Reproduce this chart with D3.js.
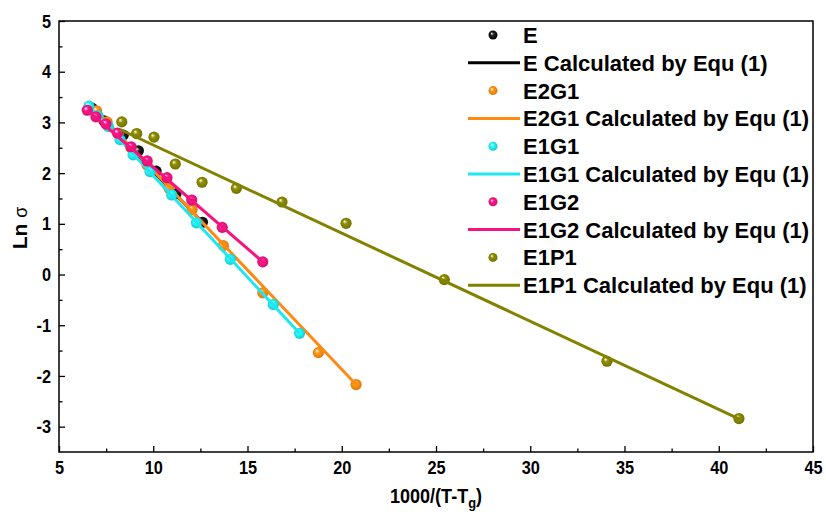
<!DOCTYPE html>
<html><head><meta charset="utf-8">
<script src="https://cdn.jsdelivr.net/npm/d3@7"></script>
<style>
html,body{margin:0;padding:0;background:#fff;}
svg text{font-family:"Liberation Sans",Arial,sans-serif;font-weight:bold;fill:#000;}
</style></head>
<body><svg id="chart" width="826" height="520"></svg>
<script>
// ---- data ----
const seriesNames = ["E", "E2G1", "E1G1", "E1G2", "E1P1"];
const seriesColors = ["#000000", "#ff8a12", "#1fe6f0", "#f5147f", "#828200"];

const eX = [6.75, 7.39, 8.41, 9.21, 10.15, 11.2, 12.61];
const eY = [3.28, 3.03, 2.75, 2.44, 2.04, 1.59, 1.03];
const eFitX = [6.75, 12.61];
const eFitY = [3.28, 1.03];

const e2g1X = [6.99, 7.55, 8.13, 8.82, 9.67, 10.84, 12.06, 13.72, 15.81, 18.76, 20.76];
const e2g1Y = [3.23, 3.01, 2.77, 2.50, 2.16, 1.70, 1.28, 0.57, -0.36, -1.54, -2.17];
const e2g1FitX = [6.99, 20.76];
const e2g1FitY = [3.23, -2.17];

const e1g1X = [6.59, 7.07, 7.62, 8.24, 8.93, 9.83, 10.98, 12.29, 14.09, 16.37, 17.76];
const e1g1Y = [3.32, 3.13, 2.92, 2.66, 2.36, 2.03, 1.57, 1.02, 0.30, -0.59, -1.16];
const e1g1FitX = [6.59, 17.76];
const e1g1FitY = [3.32, -1.16];

const e1g2X = [6.50, 6.96, 7.49, 8.11, 8.82, 9.68, 10.73, 12.04, 13.66, 15.81];
const e1g2Y = [3.24, 3.11, 2.97, 2.79, 2.52, 2.24, 1.91, 1.47, 0.93, 0.25];
const e1g2FitX = [6.50, 15.81];
const e1g2FitY = [3.24, 0.25];

const e1p1X = [8.33, 9.12, 10.04, 11.17, 12.59, 14.41, 16.83, 20.23, 25.44, 34.07, 41.07];
const e1p1Y = [3.01, 2.78, 2.71, 2.18, 1.82, 1.70, 1.43, 1.01, -0.10, -1.71, -2.84];
const e1p1FitX = [8.24, 41.1];
const e1p1FitY = [2.86, -2.85];

const xTicks = [5, 10, 15, 20, 25, 30, 35, 40, 45];
const yTicks = [-3, -2, -1, 0, 1, 2, 3, 4, 5];
const xMinor = [7.5, 12.5, 17.5, 22.5, 27.5, 32.5, 37.5, 42.5];
const yMinor = [-2.5, -1.5, -0.5, 0.5, 1.5, 2.5, 3.5, 4.5];

const pointsData = [[eX, eY], [e2g1X, e2g1Y], [e1g1X, e1g1Y], [e1g2X, e1g2Y], [e1p1X, e1p1Y]];
const fitData = [[eFitX, eFitY], [e2g1FitX, e2g1FitY], [e1g1FitX, e1g1FitY], [e1g2FitX, e1g2FitY], [e1p1FitX, e1p1FitY]];

// ---- layout ----
const mLeft = 59, mRight = 813, mTop = 21, mBottom = 452;
const svg = d3.select("#chart");
const x = d3.scaleLinear().domain([5, 45]).range([mLeft, mRight]);
const y = d3.scaleLinear().domain([-3.5, 5]).range([mBottom, mTop]);

// gradients for spherical markers
const defs = svg.append("defs");
seriesColors.forEach((c, i) => {
  const g = defs.append("radialGradient").attr("id", "ball" + i)
    .attr("cx", "50%").attr("cy", "50%").attr("r", "55%").attr("fx", "35%").attr("fy", "32%");
  g.append("stop").attr("offset", "0%").attr("stop-color", "#ffffff");
  g.append("stop").attr("offset", "35%").attr("stop-color", i === 0 ? "#222" : d3.color(c).brighter(0.3));
  g.append("stop").attr("offset", "100%").attr("stop-color", i === 0 ? "#000" : d3.color(c).darker(0.5));
});

// axes (ticks inward)
const fmt = d => String(d);
const xAxis = d3.axisBottom(x).tickValues(xTicks).tickSize(-6).tickPadding(9).tickFormat(fmt);
const yAxis = d3.axisLeft(y).tickValues(yTicks).tickSize(-6).tickPadding(8).tickFormat(fmt);
const gx = svg.append("g").attr("transform", `translate(0,${mBottom})`).call(xAxis);
const gy = svg.append("g").attr("transform", `translate(${mLeft},0)`).call(yAxis);
const gxm = svg.append("g").attr("transform", `translate(0,${mBottom})`)
  .call(d3.axisBottom(x).tickValues(xMinor).tickSize(-3.5).tickFormat(""));
const gym = svg.append("g").attr("transform", `translate(${mLeft},0)`)
  .call(d3.axisLeft(y).tickValues(yMinor).tickSize(-3.5).tickFormat(""));
[gx, gy, gxm, gym].forEach(g => {
  g.select(".domain").remove();
  g.selectAll(".tick line").attr("stroke", "#000").attr("stroke-width", 1.3);
  g.selectAll("text").style("font-size", "19px").style("font-family", '"Liberation Sans",Arial,sans-serif')
    .style("font-weight", "bold");
});
// condensed look of the tick labels
gx.selectAll(".tick text").attr("transform", "scale(0.86,1)");
gy.selectAll(".tick text").attr("transform", "scale(0.86,1)").attr("x", -8 / 0.86);

// frame
svg.append("rect").attr("x", mLeft).attr("y", mTop).attr("width", mRight - mLeft).attr("height", mBottom - mTop)
  .attr("fill", "none").attr("stroke", "#000").attr("stroke-width", 1.5);

// axis titles
const xt = svg.append("text").attr("transform", `translate(${(mLeft + mRight) / 2},503) scale(0.86,1)`)
  .attr("text-anchor", "middle").style("font-size", "21px");
xt.append("tspan").text("1000/(T-T");
xt.append("tspan").attr("dy", 5).style("font-size", "15px").text("g");
xt.append("tspan").attr("dy", -5).text(")");

const yt = svg.append("text").attr("transform", `translate(27,228) rotate(-90)`)
  .attr("text-anchor", "middle").style("font-size", "21px");
yt.append("tspan").text("Ln ");
yt.append("tspan").style("font-weight", "normal").style("font-size", "18px").text("σ");

// series: in legend order (later on top)
const line = d3.line().x(d => x(d[0])).y(d => y(d[1]));
const plot = svg.append("g");
seriesNames.forEach((name, i) => {
  const pts = d3.zip(pointsData[i][0], pointsData[i][1]);
  plot.append("g").selectAll("circle").data(pts).join("circle")
    .attr("cx", d => x(d[0])).attr("cy", d => y(d[1])).attr("r", 5.6)
    .attr("fill", `url(#ball${i})`);
  const fit = d3.zip(fitData[i][0], fitData[i][1]);
  plot.append("path").datum(fit).attr("d", line).attr("fill", "none")
    .attr("stroke", seriesColors[i]).attr("stroke-width", 3);
});

// legend
const lg = svg.append("g");
const legX0 = 468, legX1 = 520, legText = 523, legY0 = 35, legDy = 27.8;
seriesNames.forEach((name, i) => {
  const yA = legY0 + legDy * (2 * i);
  const yB = legY0 + legDy * (2 * i + 1);
  lg.append("circle").attr("cx", 493).attr("cy", yA).attr("r", 4.5).attr("fill", `url(#ball${i})`);
  lg.append("text").attr("x", legText).attr("y", yA).attr("dy", "0.36em").style("font-size", "22px").text(name);
  lg.append("line").attr("x1", legX0).attr("x2", legX1).attr("y1", yB).attr("y2", yB)
    .attr("stroke", seriesColors[i]).attr("stroke-width", 3);
  lg.append("text").attr("x", legText).attr("y", yB).attr("dy", "0.36em").style("font-size", "22px")
    .text(name + " Calculated by Equ (1)");
});
</script>
</body></html>
